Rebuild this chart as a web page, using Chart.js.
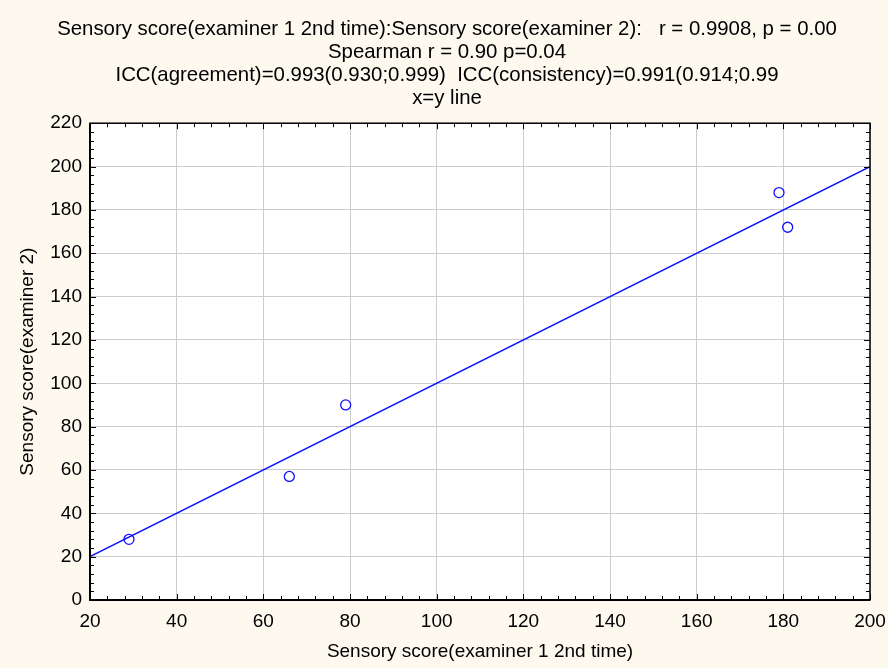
<!DOCTYPE html>
<html>
<head>
<meta charset="utf-8">
<title>Sensory score scatter</title>
<script src="https://cdn.jsdelivr.net/npm/chart.js@4.4.1/dist/chart.umd.min.js"></script>
<style>
  html, body { margin: 0; padding: 0; background: #fdf9ef; }
  #wrap { width: 888px; height: 668px; }
</style>
</head>
<body>
<div id="wrap"><canvas id="scatter" width="888" height="668"></canvas></div>
<script>
// examiner 1 (2nd time) vs examiner 2
const examiner1 = [29, 66, 79, 179, 181];
const examiner2 = [28, 57, 90, 188, 172];

// reference x=y line end points
const identityX = [20, 200];
const identityY = [20, 200];

// axis ranges / tick steps
const xRange = [20, 200];
const yRange = [0, 220];
const majorStep = 20;
const minorStep = 4;

const titleLines = [
  'Sensory score(examiner 1 2nd time):Sensory score(examiner 2):   r = 0.9908, p = 0.00',
  'Spearman r = 0.90 p=0.04',
  'ICC(agreement)=0.993(0.930;0.999)  ICC(consistency)=0.991(0.914;0.99',
  'x=y line',
];

const FONT = "'Liberation Sans', Arial, Helvetica, sans-serif";
const BLUE = '#1010ff';

// cream page, white plot, black frame with inward minor ticks
const framePlugin = {
  id: 'frame',
  beforeDraw(chart) {
    const { ctx, chartArea: a } = chart;
    ctx.save();
    ctx.fillStyle = '#fdf9ef';
    ctx.fillRect(0, 0, chart.width, chart.height);
    ctx.fillStyle = '#ffffff';
    ctx.fillRect(a.left, a.top, a.right - a.left, a.bottom - a.top);
    ctx.restore();
  },
  afterDraw(chart) {
    const { ctx, chartArea: a, scales } = chart;
    ctx.save();
    ctx.strokeStyle = '#000';
    ctx.lineWidth = 1;
    ctx.beginPath();
    for (let v = xRange[0]; v <= xRange[1]; v += minorStep) {
      const px = Math.round(scales.x.getPixelForValue(v)) + 0.5;
      const len = v % majorStep === 0 ? 6 : 4;
      ctx.moveTo(px, a.bottom); ctx.lineTo(px, a.bottom - len);
      ctx.moveTo(px, a.top); ctx.lineTo(px, a.top + len);
    }
    for (let v = yRange[0]; v <= yRange[1]; v += minorStep) {
      const py = Math.round(scales.y.getPixelForValue(v)) + 0.5;
      const len = v % majorStep === 0 ? 6 : 4;
      ctx.moveTo(a.left, py); ctx.lineTo(a.left + len, py);
      ctx.moveTo(a.right, py); ctx.lineTo(a.right - len, py);
    }
    ctx.stroke();

    ctx.lineWidth = 1.5;
    ctx.strokeRect(a.left, a.top, a.right - a.left, a.bottom - a.top);
    ctx.lineWidth = 2;
    ctx.beginPath();
    ctx.moveTo(a.left, a.top); ctx.lineTo(a.left, a.bottom); ctx.lineTo(a.right, a.bottom);
    ctx.stroke();
    ctx.restore();
  },
};

const ctx = document.getElementById('scatter').getContext('2d');

new Chart(ctx, {
  type: 'scatter',
  data: {
    datasets: [
      {
        type: 'line',
        label: 'x=y',
        data: identityX.map((x, i) => ({ x, y: identityY[i] })),
        borderColor: BLUE,
        borderWidth: 1.5,
        pointRadius: 0,
        fill: false,
      },
      {
        label: 'examiners',
        data: examiner1.map((x, i) => ({ x, y: examiner2[i] })),
        pointStyle: 'circle',
        pointRadius: 5,
        pointBorderWidth: 1.3,
        borderColor: BLUE,
        backgroundColor: 'rgba(0,0,0,0)',
      },
    ],
  },
  options: {
    responsive: false,
    animation: false,
    layout: {
      padding: { left: 24, right: 18, top: 0, bottom: 0 },
    },
    plugins: {
      legend: { display: false },
      tooltip: { enabled: false },
      title: {
        display: true,
        text: titleLines,
        color: '#000',
        font: { family: FONT, size: 20.4, weight: 'normal', lineHeight: 1.13 },
        padding: { top: 18, bottom: 13 },
      },
    },
    scales: {
      x: {
        type: 'linear',
        min: xRange[0],
        max: xRange[1],
        afterFit(scale) {
          scale.height = 68;
          scale.paddingLeft = 0;
          scale.paddingRight = 0;
        },
        ticks: {
          stepSize: majorStep,
          color: '#000',
          padding: 10,
          font: { family: FONT, size: 19 },
        },
        grid: { color: '#cccccc', lineWidth: 1, drawTicks: false },
        border: { display: false },
        title: {
          display: true,
          text: 'Sensory score(examiner 1 2nd time)',
          color: '#000',
          font: { family: FONT, size: 19 },
          padding: { top: 0, bottom: 5 },
        },
      },
      y: {
        type: 'linear',
        min: yRange[0],
        max: yRange[1],
        afterFit(scale) {
          scale.width = 66;
          scale.paddingTop = 0;
          scale.paddingBottom = 0;
        },
        ticks: {
          stepSize: majorStep,
          color: '#000',
          padding: 8,
          font: { family: FONT, size: 19 },
        },
        grid: { color: '#cccccc', lineWidth: 1, drawTicks: false },
        border: { display: false },
        title: {
          display: true,
          text: 'Sensory score(examiner 2)',
          color: '#000',
          font: { family: FONT, size: 19 },
          padding: { top: -8, bottom: 0 },
        },
      },
    },
  },
  plugins: [framePlugin],
});
</script>
</body>
</html>
